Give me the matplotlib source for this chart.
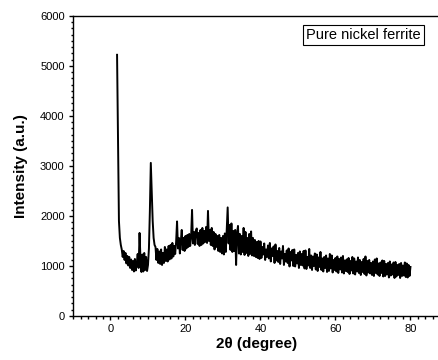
import numpy as np
from matplotlib import pyplot as plt
from matplotlib.ticker import MultipleLocator

plt.rcParams['font.family'] = ['Liberation Sans', 'DejaVu Sans']

# Data: XRD pattern, one row per degree (step 0.25)
start_2theta = 1.75
step_2theta = 0.25
intensity = [
    5220,
    3500, 1900, 1560, 1420,   # 2
    1330, 1180, 1300, 1120,   # 3
    1260, 1050, 1200, 1010,   # 4
    1180, 960, 1130, 920,     # 5
    1100, 890, 1140, 910,     # 6
    1050, 1240, 960, 1660,    # 7
    1120, 880, 1230, 890,     # 8
    1260, 920, 1180, 900,     # 9
    1020, 1350, 2100, 3060,   # 10
    2500, 1900, 1560, 1420,   # 11
    1380, 1120, 1340, 1060,   # 12
    1290, 1040, 1330, 1020,   # 13
    1260, 1060, 1380, 1100,   # 14
    1330, 1090, 1400, 1130,   # 15
    1420, 1150, 1460, 1190,   # 16
    1400, 1240, 1480, 1890,   # 17
    1350, 1560, 1250, 1500,   # 18
    1720, 1320, 1560, 1300,   # 19
    1600, 1350, 1620, 1380,   # 20
    1640, 1400, 1580, 2120,   # 21
    1450, 1680, 1420, 1700,   # 22
    1750, 1440, 1660, 1400,   # 23
    1720, 1420, 1760, 1450,   # 24
    1700, 1480, 1780, 1460,   # 25
    2100, 1500, 1720, 1420,   # 26
    1760, 1400, 1680, 1330,   # 27
    1640, 1380, 1600, 1300,   # 28
    1620, 1280, 1560, 1250,   # 29
    1600, 1230, 1650, 1280,   # 30
    1720, 2170, 1450, 1820,   # 31
    1320, 1850, 1280, 1700,   # 32
    1300, 1720, 1020, 1650,   # 33
    1800, 1250, 1640, 1230,   # 34
    1600, 1280, 1760, 1220,   # 35
    1680, 1260, 1560, 1200,   # 36
    1640, 1240, 1690, 1210,   # 37
    1560, 1200, 1520, 1180,   # 38
    1480, 1160, 1500, 1140,   # 39
    1490, 1160, 1380, 1230,   # 40
    1450, 1120, 1330, 1180,   # 41
    1410, 1150, 1460, 1090,   # 42
    1350, 1200, 1390, 1060,   # 43
    1430, 1110, 1300, 1080,   # 44
    1360, 1040, 1290, 1150,   # 45
    1400, 1020, 1240, 1090,   # 46
    1310, 1060, 1350, 990,    # 47
    1280, 1110, 1320, 1000,   # 48
    1330, 990, 1220, 1050,    # 49
    1260, 960, 1290, 1020,    # 50
    1240, 1010, 1300, 950,    # 51
    1310, 940, 1180, 1010,    # 52
    1340, 960, 1210, 920,     # 53
    1190, 1000, 1250, 930,    # 54
    1230, 900, 1170, 980,     # 55
    1280, 920, 1150, 890,     # 56
    1180, 960, 1210, 880,     # 57
    1150, 900, 1240, 950,     # 58
    1210, 870, 1120, 920,     # 59
    1160, 890, 1190, 860,     # 60
    1140, 930, 1170, 870,     # 61
    1200, 850, 1110, 900,     # 62
    1130, 880, 1160, 840,     # 63
    1100, 910, 1180, 850,     # 64
    1150, 830, 1090, 890,     # 65
    1170, 860, 1120, 820,     # 66
    1080, 880, 1140, 840,     # 67
    1190, 810, 1100, 870,     # 68
    1120, 850, 1060, 820,     # 69
    1090, 800, 1130, 860,     # 70
    1150, 830, 1050, 800,     # 71
    1070, 860, 1110, 790,     # 72
    1100, 800, 1040, 830,     # 73
    1060, 770, 1090, 810,     # 74
    1030, 830, 1070, 760,     # 75
    1080, 790, 1020, 820,     # 76
    1040, 760, 1060, 800,     # 77
    1010, 810, 1070, 780,     # 78
    1050, 770, 1020, 800,     # 79
    980,                      # 80
]
two_theta = start_2theta + step_2theta * np.arange(len(intensity))

fig = plt.figure(figsize=(4.39, 3.6), dpi=100)
ax = fig.add_axes([0.1663, 0.1222, 0.837, 0.834])

ax.plot(two_theta, intensity, color='black', linewidth=1.4)

ax.set_xlim(-10, 88)
ax.set_ylim(0, 6000)
ax.xaxis.set_major_locator(MultipleLocator(20))
ax.xaxis.set_minor_locator(MultipleLocator(2))
ax.yaxis.set_major_locator(MultipleLocator(1000))
ax.yaxis.set_minor_locator(MultipleLocator(125))
ax.tick_params(which='major', direction='out', length=3, width=1, labelsize=8, pad=3)
ax.tick_params(which='minor', direction='out', length=1.8, width=1)
ax.spines['right'].set_visible(False)
for s in ['left', 'bottom', 'top']:
    ax.spines[s].set_linewidth(1.0)

ax.set_xlabel('2θ (degree)', fontsize=11, fontweight='bold', labelpad=2)
ax.set_ylabel('Intensity (a.u.)', fontsize=11, fontweight='bold', labelpad=9)

ax.text(0.79, 0.937, 'Pure nickel ferrite', transform=ax.transAxes,
        ha='center', va='center', fontsize=10.5,
        bbox=dict(boxstyle='square,pad=0.2', fc='white', ec='black', lw=0.8))

plt.savefig('out.png', dpi=100)
